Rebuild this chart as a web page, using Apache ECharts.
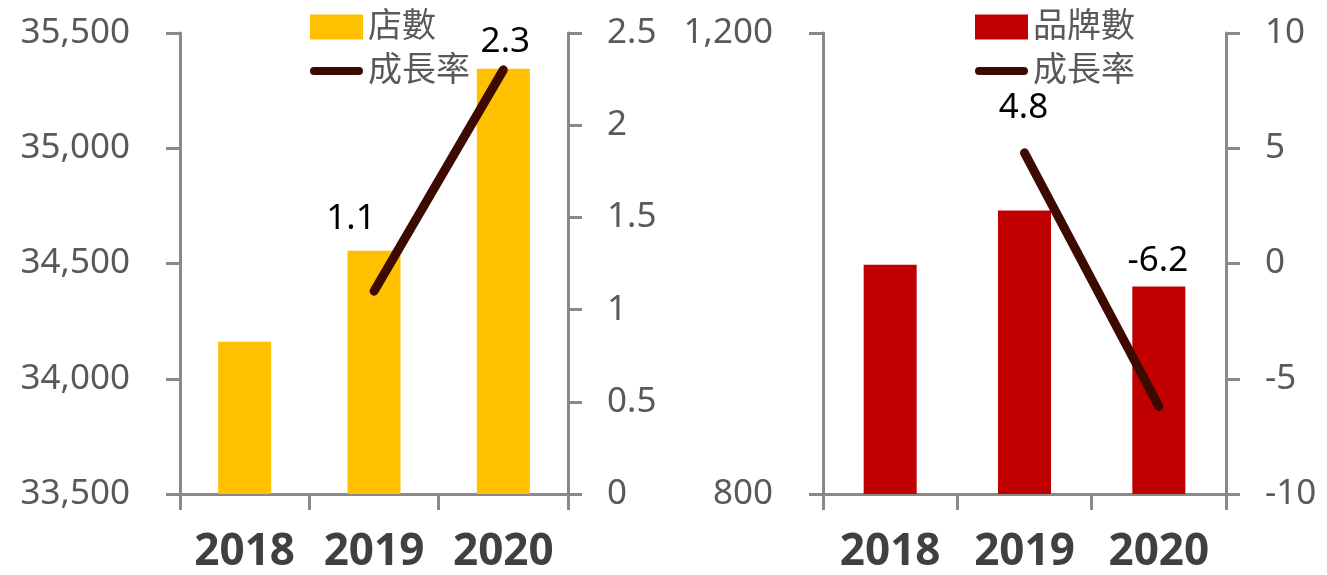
<!DOCTYPE html>
<html>
<head>
<meta charset="utf-8">
<script src="https://cdn.jsdelivr.net/npm/echarts@6/dist/echarts.min.js"></script>
<style>
  html, body { margin: 0; padding: 0; background: #fff; }
  #chart { width: 1327px; height: 575px; }
</style>
</head>
<body>
<div id="chart"></div>
<script>
const years = ["2018", "2019", "2020"];

// left panel: store count + growth
const storeCount = [34160, 34555, 35345];
const storeGrowth = [null, 1.1, 2.3];

// right panel: brand count + growth
const brandCount = [999, 1046, 980];
const brandGrowth = [null, 4.8, -6.2];

const FONT = "'Noto Sans', 'Noto Sans CJK TC', sans-serif";
const AXIS_GREY = "#898989";
const TEXT_GREY = "#595959";
const LINE_COLOR = "#3c0a00";

// where each point label is nudged from its default "top" spot (px)
const storeLabelOffsets = [[0, 0], [-23, -50], [2, -5]];
const brandLabelOffsets = [[0, 0], [-1, -22], [-1, -123]];

// legend icon for the growth line: a thick rounded stroke in a 58x25 box
const LINE_ICON = "path://M0,0M58,25M4,8L54,8A4.5,4.5,0,0,1,54,17L4,17A4.5,4.5,0,0,1,4,8Z";

const chart = echarts.init(document.getElementById("chart"), null, { renderer: "canvas" });

const fmt = (v) => v.toLocaleString("en-US");

function valueAxis(gridIndex, side, min, max, interval, formatter) {
  return {
    type: "value",
    gridIndex,
    position: side,
    min,
    max,
    interval,
    splitLine: { show: false },
    axisLine: { show: true, onZero: false, lineStyle: { color: AXIS_GREY, width: 3 } },
    axisTick: { show: true, inside: false, length: 14, lineStyle: { color: AXIS_GREY, width: 3 } },
    axisLabel: {
      margin: side === "left" ? 50 : 39,
      color: TEXT_GREY,
      fontSize: 35,
      fontFamily: FONT,
      formatter,
    },
  };
}

function catAxis(gridIndex) {
  return {
    type: "category",
    gridIndex,
    data: years,
    boundaryGap: true,
    axisLine: { show: true, onZero: false, lineStyle: { color: AXIS_GREY, width: 3 } },
    axisTick: { show: true, interval: 0, length: 16, lineStyle: { color: AXIS_GREY, width: 3 } },
    axisLabel: {
      interval: 0,
      margin: 36,
      color: "#404040",
      fontSize: 44,
      fontWeight: "bold",
      fontFamily: FONT,
    },
  };
}

function growthSeries(name, values, offsets, xAxisIndex, yAxisIndex) {
  return {
    type: "line",
    name,
    xAxisIndex,
    yAxisIndex,
    data: values.map((v) => (v == null ? "-" : v)),
    // labels ride on the symbols, so keep them but make them invisible
    symbol: "circle",
    symbolSize: 0.1,
    showSymbol: true,
    z: 5,
    lineStyle: { color: LINE_COLOR, width: 9, cap: "round" },
    itemStyle: { color: LINE_COLOR },
    label: {
      show: true,
      position: "top",
      color: "#000",
      fontSize: 35,
      fontFamily: FONT,
    },
    labelLayout(params) {
      const o = offsets[params.dataIndex] || [0, 0];
      return { dx: o[0], dy: o[1], hideOverlap: false };
    },
  };
}

function legend(left, names) {
  return {
    orient: "vertical",
    left,
    top: 5,
    itemWidth: 53,
    itemHeight: 25,
    itemGap: 10,
    textStyle: { color: TEXT_GREY, fontSize: 34, fontFamily: FONT },
    data: [
      { name: names[0], icon: "rect" },
      { name: names[1], icon: LINE_ICON, itemStyle: { color: LINE_COLOR } },
    ],
  };
}

const option = {
  backgroundColor: "#fff",
  animation: false,
  legend: [
    legend(305, ["店數", "成長率"]),
    legend(970, ["品牌數", "成長率 "]),
  ],
  grid: [
    { left: 180, right: 1327 - 568, top: 33, bottom: 575 - 494 },
    { left: 823, right: 1327 - 1226, top: 33, bottom: 575 - 494 },
  ],
  xAxis: [catAxis(0), catAxis(1)],
  yAxis: [
    valueAxis(0, "left", 33500, 35500, 500, fmt),
    valueAxis(0, "right", 0, 2.5, 0.5, (v) => String(v)),
    valueAxis(1, "left", 800, 1200, 400, fmt),
    valueAxis(1, "right", -10, 10, 5, (v) => String(v)),
  ],
  series: [
    {
      type: "bar",
      name: "店數",
      xAxisIndex: 0,
      yAxisIndex: 0,
      data: storeCount,
      barWidth: 53,
      itemStyle: { color: "#ffc000" },
    },
    growthSeries("成長率", storeGrowth, storeLabelOffsets, 0, 1),
    {
      type: "bar",
      name: "品牌數",
      xAxisIndex: 1,
      yAxisIndex: 2,
      data: brandCount,
      barWidth: 53,
      itemStyle: { color: "#c00000" },
    },
    growthSeries("成長率 ", brandGrowth, brandLabelOffsets, 1, 3),
  ],
};

chart.setOption(option);
</script>
</body>
</html>
